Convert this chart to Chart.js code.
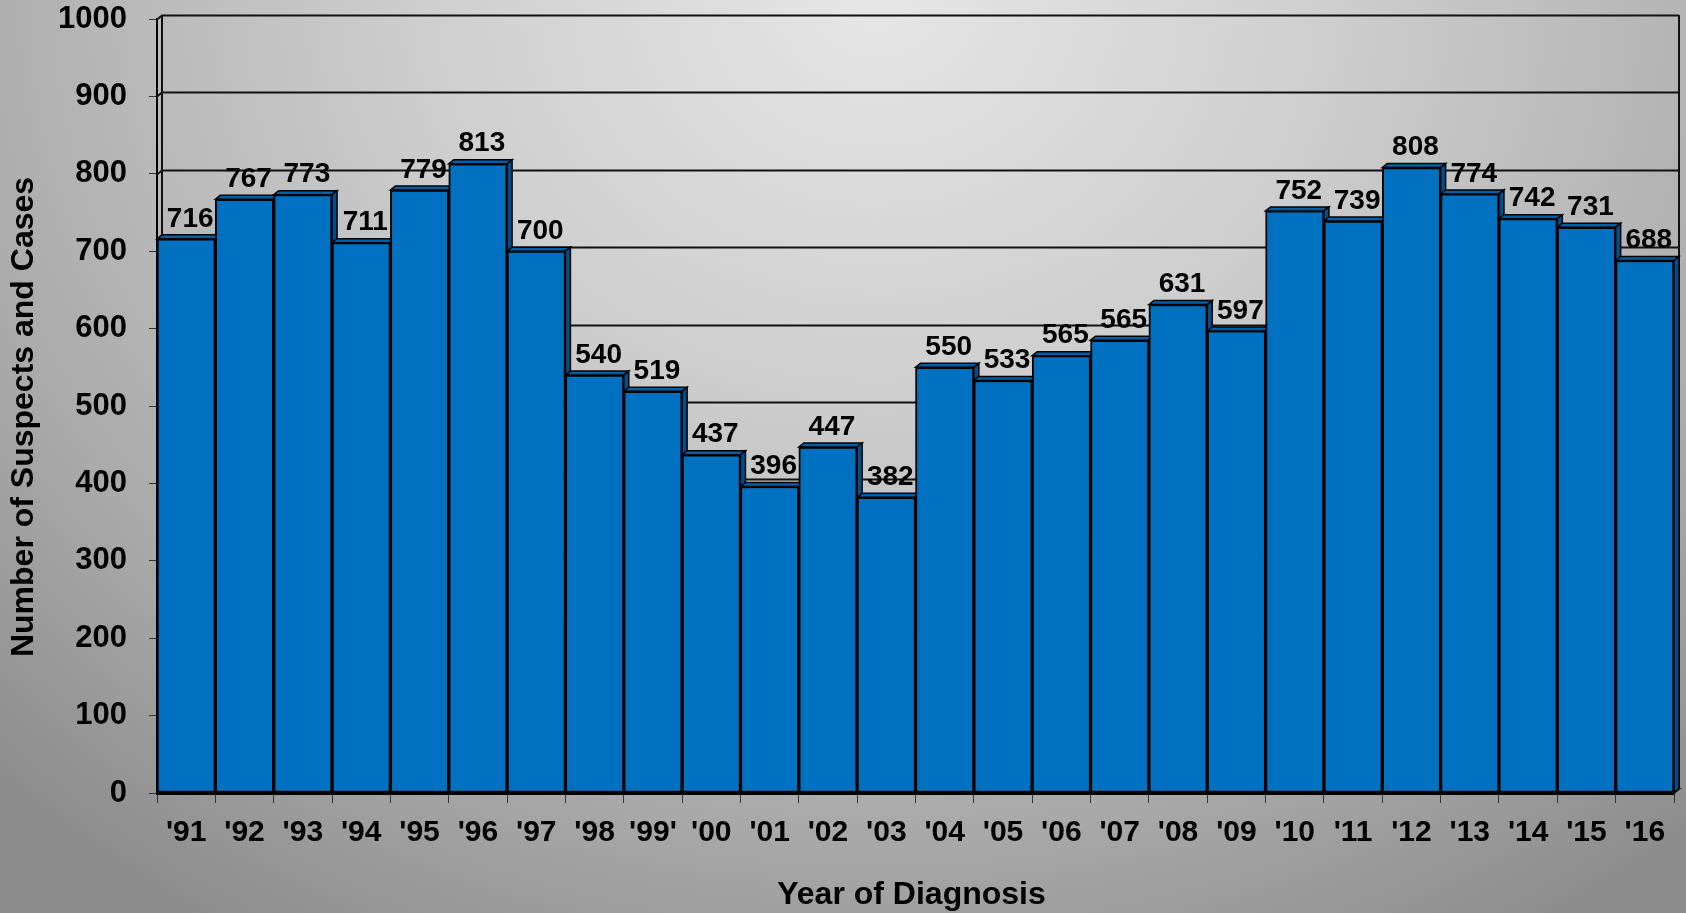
<!DOCTYPE html>
<html>
<head>
<meta charset="utf-8">
<script src="https://cdn.jsdelivr.net/npm/chart.js@4/dist/chart.umd.min.js"></script>
<style>
  html, body { margin: 0; padding: 0; }
  body {
    width: 1686px; height: 913px; overflow: hidden;
    background: radial-gradient(ellipse 75% 120% at 52% 0%, #e6e6e6 0%, #cfcfcf 35%, #aaaaaa 75%, #8c8c8c 100%);
  }
  #wrap { position: absolute; left: 0; top: 0; width: 1686px; height: 913px; }
</style>
</head>
<body>
<div id="wrap"><canvas id="c" width="1686" height="913"></canvas></div>
<script>
// ---- data ----
const years = ["'91","'92","'93","'94","'95","'96","'97","'98","'99'","'00","'01","'02","'03","'04","'05","'06","'07","'08","'09","'10","'11","'12","'13","'14","'15","'16"];
const cases = [716, 767, 773, 711, 779, 813, 700, 540, 519, 437, 396, 447, 382, 550, 533, 565, 585, 631, 597, 752, 739, 808, 774, 742, 731, 688];
const caseLabels = ["716","767","773","711","779","813","700","540","519","437","396","447","382","550","533","565","565","631","597","752","739","808","774","742","731","688"];
const yTicks = [0, 100, 200, 300, 400, 500, 600, 700, 800, 900, 1000];
const xTitle = "Year of Diagnosis";
const yTitle = "Number of Suspects and Cases";

// ---- style ----
const FONT = '"Liberation Sans", Arial, sans-serif';
const DX = 5, DY = 4;
const FRONT = '#0070c0', TOPF = '#005fa6', SIDEF = '#004f8c';

const wallPlugin = {
  id: 'wall',
  beforeDatasetsDraw(chart) {
    const {ctx, chartArea: a, scales: {y}} = chart;
    ctx.save();
    ctx.strokeStyle = '#111';
    ctx.lineWidth = 2;
    yTicks.forEach(v => {
      if (v === 0) return;
      const py = Math.round(y.getPixelForValue(v)) + 0.5;
      ctx.beginPath();
      ctx.moveTo(a.left, py);
      ctx.lineTo(a.left + DX, py - DY);
      ctx.lineTo(a.right + DX, py - DY);
      ctx.stroke();
    });
    const top = y.getPixelForValue(1000), bot = y.getPixelForValue(0);
    ctx.beginPath();
    ctx.moveTo(a.left + DX, top - DY);
    ctx.lineTo(a.left + DX, bot - DY);
    ctx.stroke();
    ctx.beginPath();
    ctx.moveTo(a.right + DX, top - DY);
    ctx.lineTo(a.right + DX, bot - DY);
    ctx.stroke();
    ctx.beginPath();
    ctx.moveTo(a.left + DX, bot - DY);
    ctx.lineTo(a.right + DX, bot - DY);
    ctx.lineTo(a.right, bot);
    ctx.stroke();
    ctx.restore();
  },
  beforeDatasetDraw() { return false; },
  afterDatasetsDraw(chart) {
    const {ctx, chartArea: a} = chart;
    const meta = chart.getDatasetMeta(0);
    ctx.save();
    meta.data.forEach((el) => {
      const p = el.getProps(['x', 'y', 'base', 'width'], true);
      const l = p.x - p.width / 2, r = p.x + p.width / 2, t = p.y, b = p.base;
      el.draw(ctx, a);
      ctx.lineWidth = 1.5;
      ctx.strokeStyle = '#000';
      ctx.lineJoin = 'miter';
      ctx.beginPath();
      ctx.moveTo(l, t); ctx.lineTo(l + DX, t - DY); ctx.lineTo(r + DX, t - DY); ctx.lineTo(r, t); ctx.closePath();
      ctx.fillStyle = TOPF; ctx.fill(); ctx.stroke();
      ctx.beginPath();
      ctx.moveTo(r, t); ctx.lineTo(r + DX, t - DY); ctx.lineTo(r + DX, b - DY); ctx.lineTo(r, b); ctx.closePath();
      ctx.fillStyle = SIDEF; ctx.fill(); ctx.stroke();
    });
    ctx.font = 'bold 28px ' + FONT;
    ctx.fillStyle = '#000';
    ctx.textAlign = 'center';
    ctx.textBaseline = 'middle';
    meta.data.forEach((el, i) => {
      const p = el.getProps(['x', 'y'], true);
      ctx.fillText(caseLabels[i], p.x + 4, p.y - 20);
    });
    ctx.font = 'bold 32px ' + FONT;
    ctx.fillText(xTitle, (a.left + a.right) / 2 - 4, 895);
    ctx.save();
    ctx.translate(24, 417);
    ctx.rotate(-Math.PI / 2);
    ctx.fillText(yTitle, 0, 0);
    ctx.restore();
    ctx.restore();
  }
};

new Chart(document.getElementById('c'), {
  type: 'bar',
  data: {
    labels: years,
    datasets: [{
      data: cases,
      backgroundColor: FRONT,
      borderColor: '#000',
      borderWidth: 2,
      borderSkipped: false,
      barPercentage: 1,
      categoryPercentage: 1
    }]
  },
  options: {
    responsive: false,
    animation: false,
    devicePixelRatio: 1,
    layout: { padding: { top: 19, right: 12, left: 0, bottom: 0 } },
    plugins: { legend: { display: false }, tooltip: { enabled: false } },
    scales: {
      x: {
        afterFit(s) { s.height = 120; s.paddingLeft = 0; s.paddingRight = 0; },
        grid: { offset: true, drawOnChartArea: false, drawTicks: true, tickLength: 10, color: '#333', lineWidth: 1 },
        border: { display: true, color: '#000', width: 3 },
        ticks: { color: '#000', font: { family: FONT, size: 30, weight: 'bold' }, padding: 12, maxRotation: 0, autoSkip: false }
      },
      y: {
        min: 0, max: 1000,
        afterFit(s) { s.width = 157; s.paddingTop = 0; s.paddingBottom = 0; },
        afterBuildTicks(s) { s.ticks = yTicks.map(v => ({ value: v })); },
        grid: { drawOnChartArea: false, drawTicks: true, tickLength: 8, color: '#333', lineWidth: 1 },
        border: { display: true, color: '#000', width: 2 },
        ticks: { color: '#000', font: { family: FONT, size: 31, weight: 'bold' }, padding: 22, callback: (v) => String(v) }
      }
    }
  },
  plugins: [wallPlugin]
});
</script>
</body>
</html>
